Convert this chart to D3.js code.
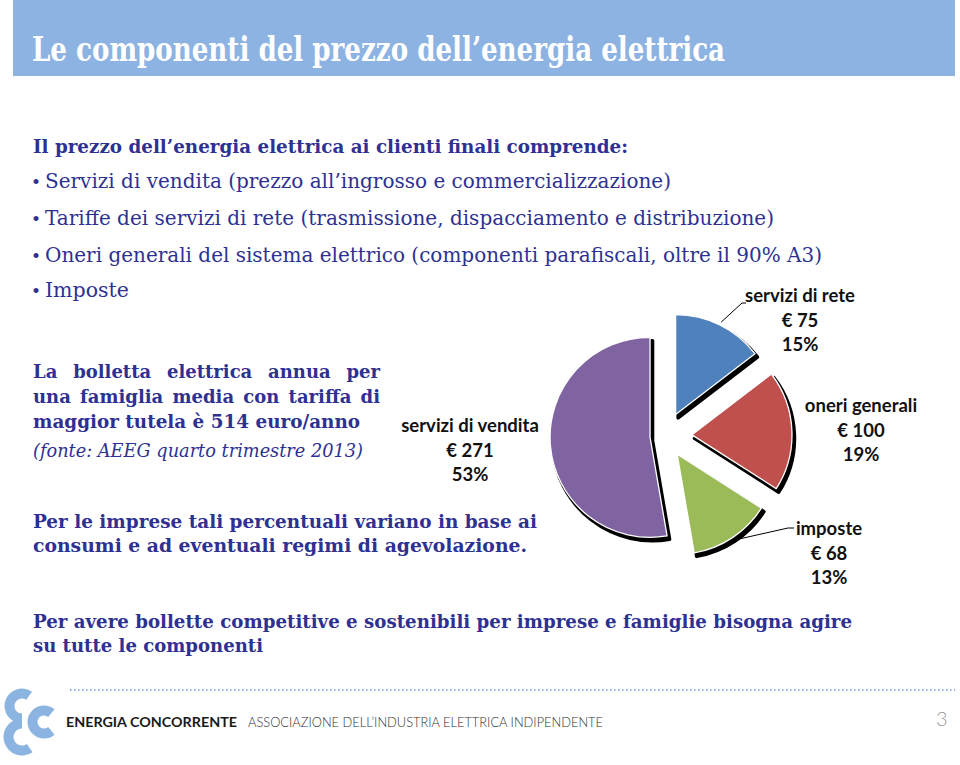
<!DOCTYPE html>
<html><head><meta charset="utf-8">
<script src="https://cdn.jsdelivr.net/npm/d3@7"></script>
<style>body{margin:0;background:#fff}svg{display:block}</style>
</head><body>
<script>
// ---------- data ----------
const categories = ["servizi di rete", "oneri generali", "imposte", "servizi di vendita"];
const values = [75, 100, 68, 271];
const colors = ["#4F81BD", "#C0504D", "#9BBB59", "#8064A2"];

const titleText = "Le componenti del prezzo dell\u2019energia elettrica";
const introHeading = "Il prezzo dell\u2019energia elettrica ai clienti finali comprende:";
const bullets = [
  "Servizi di vendita (prezzo all\u2019ingrosso e commercializzazione)",
  "Tariffe dei servizi di rete (trasmissione, dispacciamento e distribuzione)",
  "Oneri generali del sistema elettrico (componenti parafiscali, oltre il 90% A3)",
  "Imposte"
];
const noteLines = ["La bolletta elettrica annua per", "una famiglia media con tariffa di", "maggior tutela \u00e8 514 euro/anno"];
const sourceNote = "(fonte: AEEG quarto trimestre 2013)";
const impreseLines = ["Per le imprese tali percentuali variano in base  ai", "consumi e ad eventuali  regimi di agevolazione."];
const conclusionLines = ["Per avere bollette competitive e sostenibili per imprese e famiglie bisogna agire", "su tutte le componenti"];
const footerBrand = "ENERGIA CONCORRENTE";
const footerAssoc = "ASSOCIAZIONE DELL\u2019INDUSTRIA ELETTRICA INDIPENDENTE";
const pageNumber = "3";

// ---------- layout ----------
const W = 960, H = 765;
const navy = "#2E3192";
const serif = "'DejaVu Serif', 'Liberation Serif', serif";
const sans = "Lato, 'Open Sans', 'Liberation Sans', sans-serif";

const svg = d3.select("body").append("svg").attr("width", W).attr("height", H);

function txt(x, y, s, o) {
  const t = svg.append("text").attr("x", x).attr("y", y).text(s)
    .attr("font-family", o.family || serif)
    .attr("font-size", o.size)
    .attr("font-weight", o.weight || "normal")
    .attr("font-style", o.style || "normal")
    .attr("fill", o.fill || navy)
    .attr("text-anchor", o.anchor || "start");
  if (o.width) t.attr("textLength", o.width).attr("lengthAdjust", o.adjust || "spacingAndGlyphs");
  return t;
}

// justified line: words spread to fill the width
function justified(x, y, s, width, o) {
  const words = s.split(" ");
  const g = svg.append("g");
  const nodes = words.map(w => g.append("text").attr("y", y).text(w)
      .attr("font-family", o.family || serif).attr("font-size", o.size)
      .attr("font-weight", o.weight || "normal").attr("fill", o.fill || navy));
  const widths = nodes.map(n => n.node().getComputedTextLength());
  const wsum = d3.sum(widths);
  let scale = 1;
  const minGap = o.size * 0.3;
  if (wsum + minGap * (words.length - 1) > width) {
    scale = (width - minGap * (words.length - 1)) / wsum;
  }
  const gap = (width - wsum * scale) / (words.length - 1);
  let cx = x;
  nodes.forEach((n, i) => {
    const w = widths[i] * scale;
    n.attr("x", cx);
    if (scale !== 1) n.attr("textLength", w).attr("lengthAdjust", "spacingAndGlyphs");
    cx += w + gap;
  });
}

// title bar
svg.append("rect").attr("x", 13).attr("y", 0).attr("width", 942).attr("height", 76).attr("fill", "#8DB3E2");
txt(32, 61, titleText, {size: 33, weight: "bold", fill: "#fff", width: 693});

// intro heading and bullets
txt(33, 153, introHeading, {size: 18, weight: "bold", width: 595});
const bulletY = [188, 225, 262, 297];
const bulletW = [626, 729, 777, 84];
bullets.forEach((b, i) => {
  txt(31, bulletY[i], "\u2022", {size: 17});
  txt(45, bulletY[i], b, {size: 19.5, width: bulletW[i]});
});

// note paragraph
const noteY = [378, 403, 428], noteW = [347, 347, 327];
noteLines.forEach((l, i) => {
  if (i < 2) justified(33, noteY[i], l, noteW[i], {size: 18, weight: "bold"});
  else txt(33, noteY[i], l, {size: 18, weight: "bold", width: noteW[i]});
});
txt(33, 457, sourceNote, {size: 18, style: "italic", width: 330});

const impY = [528, 552], impW = [504, 494];
impreseLines.forEach((l, i) => txt(33, impY[i], l, {size: 18, weight: "bold", width: impW[i]}));
const conY = [628, 652], conW = [819, 230];
conclusionLines.forEach((l, i) => txt(33, conY[i], l, {size: 18, weight: "bold", width: conW[i]}));

// ---------- pie ----------
const total = d3.sum(values);
const pct = d3.format(".0%");
const pie = d3.pie().sort(null).value(d => d.value);
const arcs = pie(categories.map((c, i) => ({name: c, value: values[i], color: colors[i]})));
const R = 100;
const arc = d3.arc().innerRadius(0).outerRadius(R);
const center = [665, 436];
const explode = [24, 27, 22, 15];
arcs.forEach((a, i) => {
  const m = (a.startAngle + a.endAngle) / 2;
  a.mid = m;
  a.dx = explode[i] * Math.sin(m);
  a.dy = -explode[i] * Math.cos(m);
});
const pg = svg.append("g").attr("transform", `translate(${center[0]},${center[1]})`);
pg.selectAll("path.shadow").data(arcs).join("path").attr("class", "shadow")
  .attr("d", arc)
  .attr("transform", d => `translate(${d.dx + 2.5},${d.dy + 3.5})`)
  .attr("fill", "#000").attr("stroke", "#000").attr("stroke-width", 3.5).attr("stroke-linejoin", "round");
pg.selectAll("path.slice").data(arcs).join("path").attr("class", "slice")
  .attr("d", arc)
  .attr("transform", d => `translate(${d.dx},${d.dy})`)
  .attr("fill", d => d.data.color).attr("stroke", "#fff").attr("stroke-width", 1.3).attr("stroke-linejoin", "round");

// leader lines
const leaderElbows = {0: [[742, 303], [746, 303]], 2: [[788, 528], [794, 528]]};
Object.keys(leaderElbows).forEach(k => {
  const a = arcs[+k];
  const r0 = R + 3;
  const start = [center[0] + a.dx + r0 * Math.sin(a.mid), center[1] + a.dy - r0 * Math.cos(a.mid)];
  svg.append("path").attr("d", d3.line()([start, ...leaderElbows[k]]))
    .attr("fill", "none").attr("stroke", "#000").attr("stroke-width", 1);
});

// labels
const labelPos = [[800, 302], [861, 412], [829, 535], [470, 432]];
arcs.forEach((a, i) => {
  const [x, y] = labelPos[i];
  const lines = [a.data.name, "\u20ac " + a.data.value, pct(a.data.value / total)];
  lines.forEach((l, j) => txt(x, y + j * 24.5, l, {family: sans, size: 18.5, weight: "bold", fill: "#111", anchor: "middle"}));
});

// ---------- footer ----------
svg.append("line").attr("x1", 70).attr("x2", 955).attr("y1", 690).attr("y2", 690)
  .attr("stroke", "#8DB3E2").attr("stroke-width", 2).attr("stroke-dasharray", "1.5,2.5");
const logoColor = "#8CB4E1";
const logoArcs = [
  {c: [22, 706], r: 12.5, s: 180, e: 395},
  {c: [22, 737], r: 13.5, s: 145, e: 360},
  {c: [44, 722], r: 11.5, s: 140, e: 400}
];
logoArcs.forEach(l => {
  svg.append("path")
    .attr("d", d3.arc().innerRadius(l.r - 5).outerRadius(l.r + 5)
      .startAngle(l.s * Math.PI / 180).endAngle(l.e * Math.PI / 180)())
    .attr("transform", `translate(${l.c[0]},${l.c[1]})`)
    .attr("fill", logoColor);
});
txt(66, 727, footerBrand, {family: sans, size: 13, weight: "bold", fill: "#1a1a1a", width: 171});
txt(248, 727, footerAssoc, {family: sans, size: 13, weight: "300", fill: "#333", width: 355});
txt(936, 726, pageNumber, {family: sans, size: 20, weight: "300", fill: "#999"});
</script>
</body></html>
